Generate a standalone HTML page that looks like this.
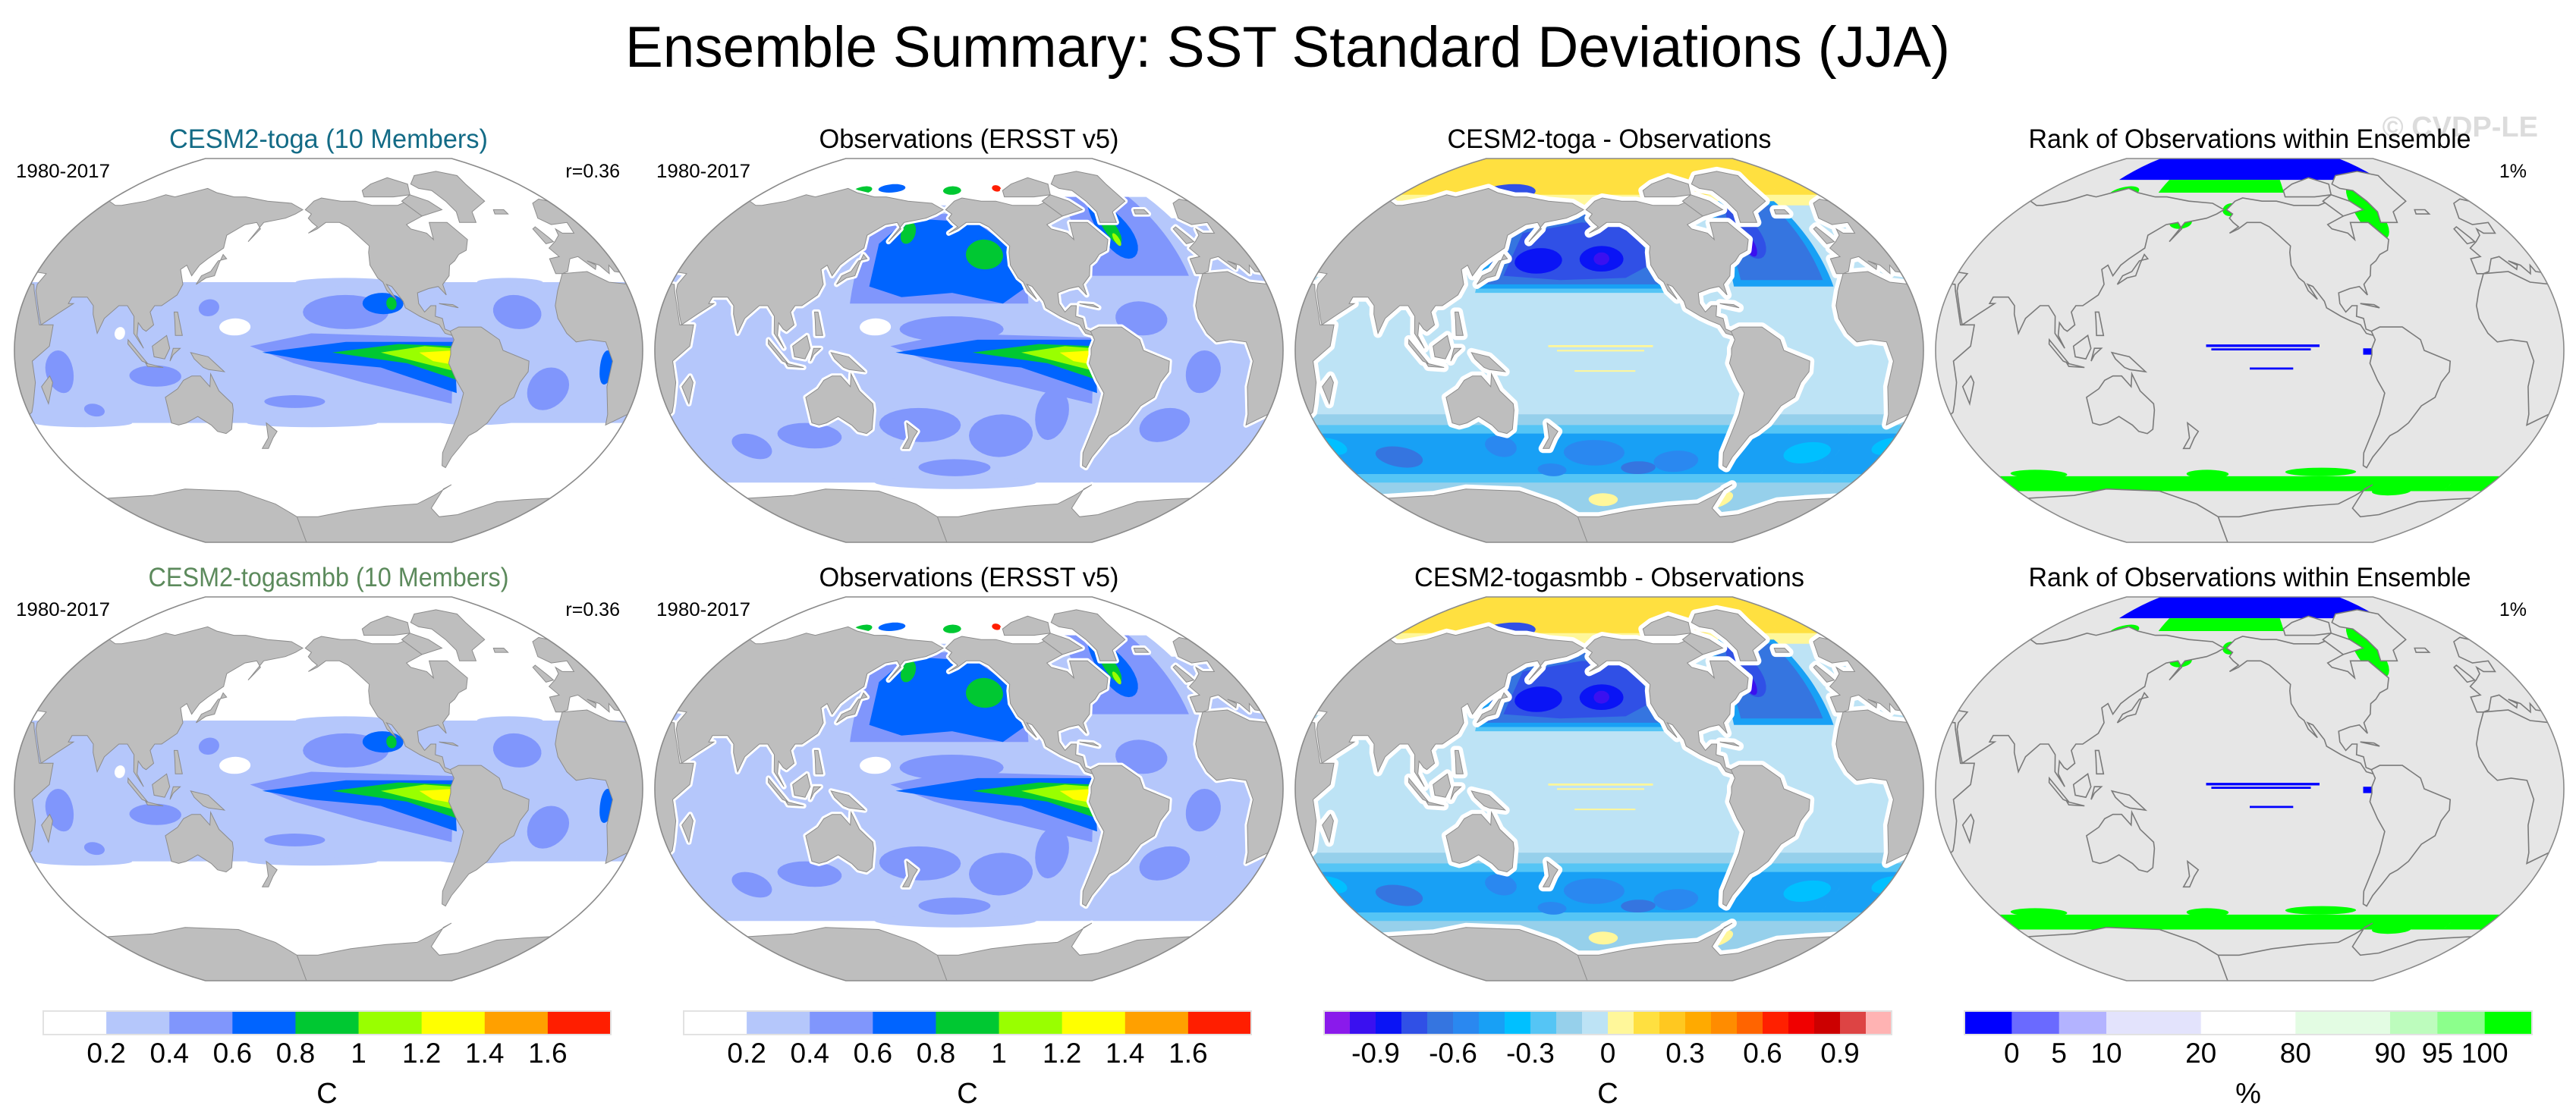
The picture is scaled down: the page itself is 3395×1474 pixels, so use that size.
<!DOCTYPE html>
<html><head><meta charset="utf-8"><style>
html,body{margin:0;padding:0;background:#fff;}
svg text{font-family:"Liberation Sans",sans-serif;}
</style></head><body>
<svg id="s" xmlns="http://www.w3.org/2000/svg" width="3395" height="1469" viewBox="0 0 3395 1469">
<rect width="3395" height="1469" fill="#fff"/>
<text x="1697" y="88" font-size="76" text-anchor="middle" textLength="1746" lengthAdjust="spacingAndGlyphs">Ensemble Summary: SST Standard Deviations (JJA)</text>
<text x="3345" y="180" font-size="38" font-weight="bold" fill="#dcdcdc" text-anchor="end">© CVDP-LE</text>
<g id="maps"></g>
<g id="bars"></g>
</svg>
<script>
// ---------- colour scales ----------
const sdColors=['#ffffff','#b5c7fb','#8096fc','#0064ff','#00c832','#99ff00','#ffff00','#ffa000','#ff1e00'];
const sdTicks=['0.2','0.4','0.6','0.8','1','1.2','1.4','1.6'];
const diffColors=['#8a1aeb','#3a10f0','#0a14f5','#3050e6','#3575e0','#2a88f0','#18a0f5','#00c0ff','#55c5f5','#96d0eb','#bde3f5','#fff79a','#ffe040','#ffc820','#ffaa00','#ff8c00','#ff6400','#ff2000','#f00000','#cc0000','#dd4444','#ffb3b3'];
const diffTicks=['-0.9','-0.6','-0.3','0','0.3','0.6','0.9'];
const diffTickEdge=[2,5,8,11,14,17,20];
const rankColors=['#0000ff','#6a6aff','#b3b3ff','#e3e3fc','#ffffff','#e3fce3','#bdfcbd','#8cff8c','#00ff00'];
const rankWidths=[1,1,1,2,2,2,1,1,1];
const rankTicks=['0','5','10','20','80','90','95','100'];

// ---------- geography (lon, lat) ----------
const continents=[
 [[-168,66],[-162,70],[-156,71.5],[-140,70],[-128,70],[-115,68],[-95,68],[-85,70],[-80,63],[-94,59],[-92,57],[-82,55],[-79,52],[-77,60],[-70,60],[-64,60],[-56,52],[-60,47],[-66,45],[-70,42],[-74,40],[-76,35],[-81,31],[-80,26],[-82,28],[-84,30],[-90,29],[-97,27],[-97,22],[-94,18],[-90,21],[-87,21],[-88,16],[-84,15],[-83,10],[-80,9],[-77,8],[-79,7],[-83,8],[-86,12],[-92,14],[-97,16],[-105,20],[-106,23],[-112,30],[-115,31],[-110,24],[-115,28],[-117,32],[-120,34],[-124,40],[-124,46],[-123,49],[-130,54],[-136,58],[-142,60],[-152,60],[-158,57],[-164,55],[-158,58],[-162,60],[-165,62],[-163,64]],
 [[-55,60],[-43,60],[-40,65],[-22,70],[-20,78],[-15,82],[-30,84],[-60,82],[-72,78],[-68,76],[-58,75],[-54,70],[-52,65]],
 [[-120,72],[-95,72],[-80,73],[-75,78],[-90,81],[-110,78],[-120,75]],
 [[-80,63],[-62,66],[-68,70],[-80,73],[-90,70]],
 [[-80,9],[-75,11],[-62,11],[-52,5],[-50,0],[-35,-5],[-35,-10],[-39,-15],[-41,-22],[-48,-26],[-53,-34],[-58,-38],[-62,-40],[-65,-45],[-68,-50],[-69,-55],[-72,-54],[-75,-48],[-74,-40],[-72,-30],[-71,-20],[-76,-14],[-81,-6],[-80,-2],[-80,1],[-78,5]],
 [[-17,15],[-17,21],[-13,28],[-6,36],[10,37],[20,32],[32,31],[34,28],[43,12],[51,12],[50,2],[40,-5],[40,-15],[35,-25],[32,-29],[20,-35],[18,-30],[12,-17],[13,-5],[9,4],[0,5],[-8,4],[-13,8]],
 [[44,-25],[50,-15],[49,-12],[43,-17]],
 [[-10,36],[-9,43],[-2,44],[-5,48],[2,51],[8,54],[10,57],[12,55],[20,55],[23,60],[10,59],[5,62],[15,69],[25,71],[40,68],[45,68],[60,70],[70,73],[80,72],[100,76],[112,74],[130,72],[140,72],[160,70],[180,69],[190,66],[185,64],[178,62],[163,60],[156,51],[162,57],[158,60],[150,59],[140,54],[141,48],[133,43],[129,40],[126,35],[121,40],[118,38],[122,31],[120,26],[112,21],[108,21],[106,18],[109,12],[105,9],[103,10],[100,13],[100,7],[104,1],[98,8],[97,16],[92,21],[87,21],[80,15],[77,8],[73,17],[72,21],[67,25],[58,25],[57,22],[60,22],[52,17],[44,12],[42,16],[35,28],[34,31],[36,36],[27,37],[26,40],[23,36],[20,40],[14,42],[18,40],[16,38],[10,44],[4,43],[-2,37],[-6,36]],
 [[-5,50],[1,51],[0,53],[-3,58],[-6,57]],
 [[-24,64],[-14,64],[-14,66],[-22,66]],
 [[130,31],[135,34],[140,35],[141,41],[142,45],[145,43],[140,42],[137,37],[132,35]],
 [[95,5],[106,-6],[103,-5],[95,3]],
 [[109,2],[117,7],[119,1],[116,-4],[110,-3]],
 [[105,-6],[115,-8],[106,-7.5]],
 [[131,-1],[141,-3],[150,-10],[141,-9],[138,-8],[133,-4]],
 [[119,-5],[121,1],[125,1],[121,-2]],
 [[120,18],[122,18],[126,7],[122,7],[121,14]],
 [[114,-22],[114,-34],[118,-35],[123,-34],[131,-31],[138,-35],[141,-38],[146,-39],[150,-37],[153,-28],[153,-25],[146,-19],[142,-11],[141,-17],[136,-12],[131,-12],[126,-14],[122,-18]],
 [[172,-34],[178,-38],[175,-41],[171,-46],[167,-46],[172,-41]],
 [[-85,22],[-74,20],[-77,21.5]],
 [[-180,-92],[180,-92],[180,-78],[165,-72],[140,-66],[100,-65],[70,-68],[40,-69],[10,-70],[-10,-71],[-30,-77],[-45,-78],[-60,-74],[-62,-65],[-58,-63],[-66,-68],[-75,-72],[-100,-73],[-130,-75],[-160,-78],[-180,-78]]
];

// ---------- field layers: [shape, params..., colour level] ----------
const togaLayers=[
 ['box',0,360,-34,32,1],['blob',200,-34,40,2,1],['blob',300,-33,25,2,1],['blob',60,-34,30,2,1],['blob',220,32,30,2,1],['blob',320,32,20,2,1],
 ['blob',220,18,25,8,2],['blob',110,-12,15,5,2],['blob',190,-24,18,3,2],['blob',320,18,14,8,2],['blob',338,-18,12,10,2],['blob',55,-10,8,10,2],['blob',140,20,6,4,2],['blob',70,-28,6,3,2],
 ['poly',[[165,2],[200,8],[282,6],[283,-25],[230,-15],[190,-6]],2],
 ['blob',242,22,12,5,3],['blob',247,22,3,3,4],['blob',370,-8,4,8,3],
 ['poly',[[172,-1],[220,4],[282,4],[285,-20],[240,-8],[200,-5]],3],
 ['poly',[[212,-1],[250,3],[282,2],[285,-14],[255,-6]],4],
 ['poly',[[240,-1],[265,2],[282,1],[284,-10]],5],
 ['poly',[[262,-1],[282,0],[284,-7],[270,-5]],6],
 ['blob',156,11,9,4,0],['blob',90,8,3,3,0]
];
const obsLayers=[
 ['box',0,360,-62,62,1],['box',130,250,55,68,1],['box',280,360,55,72,1],['blob',200,-62,60,3,1],
 ['blob',180,-35,25,8,2],['blob',230,-40,20,10,2],['blob',260,-30,10,12,2],['blob',110,-40,20,6,2],['blob',330,-35,15,8,2],['blob',345,-10,10,10,2],['blob',310,15,15,8,2],['blob',200,10,30,6,2],['blob',70,-45,12,6,2],['blob',200,-55,25,4,2],
 ['box',140,245,22,64,2],['box',285,345,35,72,2],
 ['poly',[[150,30],[170,25],[200,27],[230,22],[245,30],[235,50],[215,60],[165,62],[150,50]],3],
 ['blob',220,45,12,7,4],['blob',168,55,5,5,4],
 ['blob',312,57,12,14,3],['blob',310,58,5,8,4],['blob',310,52,2,3,5],
 ['poly',[[165,2],[200,8],[282,6],[283,-25],[230,-15],[190,-6]],2],
 ['poly',[[168,-1],[215,5],[282,5],[285,-20],[240,-8],[200,-5]],3],
 ['poly',[[212,-1],[250,3],[282,2],[285,-14],[255,-6]],4],
 ['poly',[[240,-1],[265,2],[282,1],[284,-10]],5],
 ['poly',[[262,-1],[282,0],[284,-7],[270,-5]],6],
 ['blob',156,11,9,4,0],
 ['blob',140,76,12,2,3],['blob',195,75,8,2,4],['blob',235,76,4,1.5,8],['blob',115,75,8,2,4]
];
const diffLayers=[
 ['box',0,360,-90,90,10],
 ['box',0,360,68,90,11],['box',0,360,73,90,12],['blob',120,74,25,4,3],['blob',250,73,10,3,1],
 ['box',130,245,27,66,8],['box',130,245,29,66,6],['box',135,245,31,66,4],
 ['poly',[[145,35],[180,33],[220,34],[235,40],[230,58],[190,60],[150,55]],3],
 ['blob',165,42,15,6,2],['blob',205,43,14,6,2],['blob',205,43,5,3,1],
 ['box',285,345,30,70,6],['box',290,340,33,68,4],['blob',305,55,10,12,3],['blob',303,50,4,6,1],
 ['box',0,360,-90,-30,9],['box',0,360,-90,-35,8],['box',0,360,-58,-39,6],
 ['blob',200,-48,20,6,5],['blob',255,-52,15,5,5],['blob',140,-45,10,5,5],['blob',70,-50,15,5,4],['blob',340,-48,15,5,7],['blob',30,-45,10,4,7],['blob',230,-55,12,3,4],['blob',170,-56,10,3,5],
 ['box',0,360,-90,-62,9],
 ['blob',205,-70,12,3,11],['blob',300,-70,10,4,11],
 ['box',175,235,1.5,2.5,11],['box',180,230,-0.5,0.3,11],['box',190,225,-10,-9.3,11]
];
const rankLayers=[
 ['box',0,360,-66,-59,8],['blob',60,-58,20,2,8],['blob',180,-58,15,2,8],['blob',260,-57,25,2,8],['blob',320,-66,15,2,8],['blob',120,-66,20,1.5,8],
 ['box',80,340,80,90,0],['box',130,240,74,80,8],['blob',160,60,8,3,8],['blob',300,64,10,12,8],['blob',330,74,8,5,8],['blob',100,74,12,3,8],['blob',195,66,6,3,8],
 ['box',185,250,1.6,2.8,0],['box',188,245,0,1,0],['box',210,235,-9,-8,0],['box',275,280,-2,1,0]
];

const LON0=210, RX=414, RY=253;
const mapCX=[433,1277,2121,2965];
const mapCY=[462,1040];
const NS='http://www.w3.org/2000/svg';
function f(lat){return Math.sqrt(1-Math.pow(0.92*lat/90,2));}
function P(lon,lat,cx,cy){const a=Math.max(-90,Math.min(90,lat));return [cx+RX*((lon-LON0)/180)*f(a), cy-RY*lat/90];}
function ringPath(pts,cx,cy){let d='';for(const k of [-1,0,1]){d+='M'+pts.map(p=>{const q=P(p[0]+360*k,p[1],cx,cy);return q[0].toFixed(1)+','+q[1].toFixed(1);}).join('L')+'Z';}return d;}
function shapePts(L){
 if(L[0]==='poly')return L[1];
 if(L[0]==='blob'){const pts=[];for(let i=0;i<32;i++){const t=i/32*2*Math.PI;pts.push([L[1]+L[3]*Math.cos(t),L[2]+L[4]*Math.sin(t)]);}return pts;}
 const [,l1,l2,a1,a2]=L;const pts=[];
 for(let l=l1;l<l2;l+=2)pts.push([l,a1]);
 for(let a=a1;a<a2;a+=2)pts.push([l2,a]);
 for(let l=l2;l>l1;l-=2)pts.push([l,a2]);
 for(let a=a2;a>a1;a-=2)pts.push([l1,a]);
 return pts;
}
function boundary(cx,cy){const pts=[];for(let a=90;a>=-90;a-=2)pts.push(P(LON0+180,a,cx,cy));for(let a=-90;a<=90;a+=2)pts.push(P(LON0-180,a,cx,cy));return 'M'+pts.map(p=>p[0].toFixed(1)+','+p[1].toFixed(1)).join('L')+'Z';}
function el(tag,attrs,parent){const e=document.createElementNS(NS,tag);for(const k in attrs)e.setAttribute(k,attrs[k]);parent.appendChild(e);return e;}

const maps=document.getElementById('maps');
const defs=el('defs',{},maps);
const panels=[
 {layers:togaLayers,pal:sdColors,base:'#ffffff',kind:'sd'},
 {layers:obsLayers,pal:sdColors,base:'#ffffff',kind:'obs'},
 {layers:diffLayers,pal:diffColors,base:'#bde3f5',kind:'diff'},
 {layers:rankLayers,pal:rankColors,base:'#e6e6e6',kind:'rank'}
];
let cid=0;
for(let r=0;r<2;r++){
 for(let c=0;c<4;c++){
  const cx=mapCX[c],cy=mapCY[r],pn=panels[c];
  const bd=boundary(cx,cy);
  const cp=el('clipPath',{id:'clip'+cid},defs);
  el('path',{d:bd},cp);
  const g=el('g',{'clip-path':'url(#clip'+cid+')'},maps);
  
  
  cid++;
  const bg=el('path',{d:bd,fill:pn.base},g);
  
  
  for(const L of pn.layers){
   const lv=L[L.length-1];
   const p=el('path',{d:ringPath(shapePts(L),cx,cy),fill:pn.pal[lv]},g);
   
   
  }
  for(const poly of continents){
   if(pn.kind==='obs'||pn.kind==='diff'){
    const w=el('path',{d:ringPath(poly,cx,cy),fill:'#fff',stroke:'#fff','stroke-width':pn.kind==='diff'?12:7,'stroke-linejoin':'round'},g);
    
    
   }
  }
  for(const poly of continents){
   const land=el('path',{d:ringPath(poly,cx,cy),fill:pn.kind==='rank'?'#e6e6e6':'#bebebe',stroke:pn.kind==='rank'?'#7a7a7a':'#8c8c8c','stroke-width':pn.kind==='rank'?1.6:1},g);
   
   
  }
  const ob=el('path',{d:bd,fill:'none',stroke:'#8a8a8a','stroke-width':1.6},maps);
  
  
 }
}

// ---------- text labels ----------
const titles=[
 ['CESM2-toga (10 Members)','#136b86',420,'CESM2-togasmbb (10 Members)','#5c8a5c',475],
 ['Observations (ERSST v5)','#000',395,'Observations (ERSST v5)','#000',395],
 ['CESM2-toga - Observations','#000',427,'CESM2-togasmbb - Observations','#000',514],
 ['Rank of Observations within Ensemble','#000',583,'Rank of Observations within Ensemble','#000',583]
];
for(let r=0;r<2;r++){
 const dy=r*578;
 for(let c=0;c<4;c++){
  const t=el('text',{x:mapCX[c],y:195+dy,'font-size':35,'text-anchor':'middle',fill:titles[c][r*3+1],textLength:titles[c][r*3+2],lengthAdjust:'spacingAndGlyphs'},maps);
  t.textContent=titles[c][r*3];
  
  
 }
 for(let c=0;c<2;c++){
  const t=el('text',{x:21+844*c,y:234+dy,'font-size':25,textLength:124,lengthAdjust:'spacingAndGlyphs'},maps);
  t.textContent='1980-2017';
  
  
 }
 const rc=el('text',{x:817,y:234+dy,'font-size':25,'text-anchor':'end'},maps);
 rc.textContent='r=0.36';
 
 
 const pc=el('text',{x:3330,y:234+dy,'font-size':25,'text-anchor':'end'},maps);
 pc.textContent='1%';
 
 
}

// ---------- colorbars ----------
const bars=document.getElementById('bars');
const BY=1333,BH=31,BW=748,bx0=[57,901,1745,2589];
function drawBar(x0,colors,widths,tickEdges,ticks,unit,name){
 const total=widths.reduce((a,b)=>a+b,0);
 const edges=[x0];let acc=0;
 for(const w of widths){acc+=w;edges.push(x0+BW*acc/total);}
 colors.forEach((col,i)=>{
  const rct=el('rect',{x:edges[i],y:BY,width:edges[i+1]-edges[i]+0.5,height:BH,fill:col},bars);
  
  
 });
 const fr=el('rect',{x:x0,y:BY,width:BW,height:BH,fill:'none',stroke:'#e2e2e2','stroke-width':2},bars);
 
 
 ticks.forEach((tk,i)=>{
  const t=el('text',{x:edges[tickEdges[i]],y:1401,'font-size':37,'text-anchor':'middle'},bars);
  t.textContent=tk;
  
  
 });
 const u=el('text',{x:x0+BW/2,y:1454,'font-size':38,'text-anchor':'middle'},bars);
 u.textContent=unit;
 
 
}
const ones=n=>Array(n).fill(1);
drawBar(bx0[0],sdColors,ones(9),[1,2,3,4,5,6,7,8],sdTicks,'C','sd-colorbar-1');
drawBar(bx0[1],sdColors,ones(9),[1,2,3,4,5,6,7,8],sdTicks,'C','sd-colorbar-2');
drawBar(bx0[2],diffColors,ones(22),diffTickEdge,diffTicks,'C','diff-colorbar');
drawBar(bx0[3],rankColors,rankWidths,[1,2,3,4,5,6,7,8],rankTicks,'%','rank-colorbar');
</script>
</body></html>
